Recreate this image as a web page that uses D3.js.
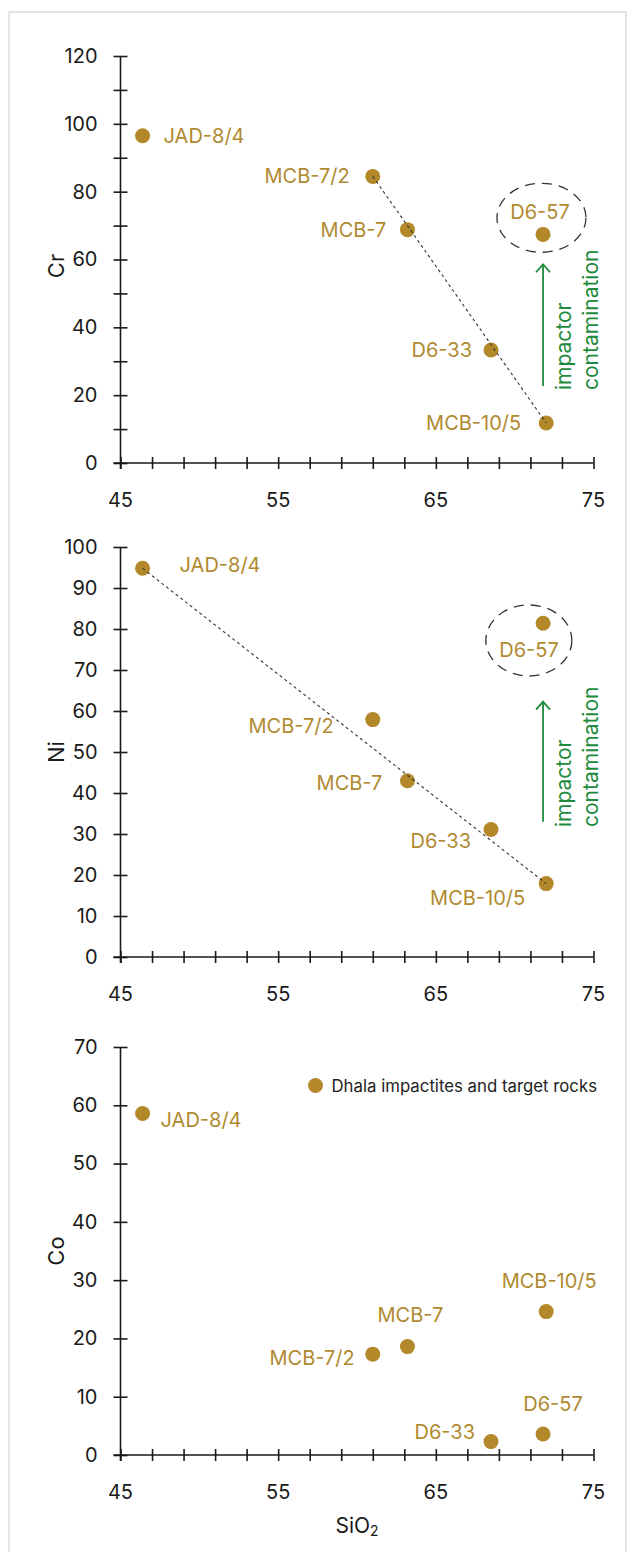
<!DOCTYPE html>
<html>
<head>
<meta charset="utf-8">
<script src="https://cdn.jsdelivr.net/npm/d3@7"></script>
<style>
  body { margin: 0; background: #fff; }
  svg { display: block; font-family: Inter, "Noto Sans", sans-serif; }
</style>
</head>
<body>
<svg id="chart" width="635" height="1552"></svg>
<script>
// data
const samples = ["JAD-8/4", "MCB-7/2", "MCB-7", "D6-33", "D6-57", "MCB-10/5"];
const sio2 = [46.4, 61.0, 63.2, 68.5, 71.8, 72.0];
const cr = [96.5, 84.5, 68.8, 33.3, 67.4, 11.8];
const ni = [94.8, 57.9, 43.0, 31.1, 81.4, 17.9];
const co = [58.6, 17.3, 18.6, 2.3, 3.6, 24.6];
const xTickLabels = [45, 55, 65, 75];
const legendLabel = "Dhala impactites and target rocks";

const gold = "#b3882a",
    goldText = "#b08a30",
    green = "#1e8a3c",
    ink = "#1a1a1a";

const svg = d3.select("#chart");

// light frame round the figure
svg.append("rect")
    .attr("x", 9).attr("y", 12)
    .attr("width", 617).attr("height", 1545)
    .attr("fill", "none")
    .attr("stroke", "#c9c9c9")
    .attr("stroke-width", 1);

const xScale = d3.scaleLinear().domain([45, 75]).range([120.5, 593.5]);

// label placement per panel: [anchor, dx, dy]
const panels = [
    {
        name: "Cr", values: cr, yMax: 120, top: 56, bottom: 463, labelStep: 20, titleY: 266,
        trend: ["MCB-7/2", "MCB-10/5"],
        ellipse: { x: 71.7, y: 72.3, rx: 44.5, ry: 34.5 },
        arrow: { x: 71.8, y0: 22.7, y1: 58.6, textY: 390 },
        labels: {
            "JAD-8/4": ["start", 21, 0], "MCB-7/2": ["end", -23, 0], "MCB-7": ["end", -21, 0],
            "D6-33": ["end", -19, 0], "D6-57": ["middle", -3, -22], "MCB-10/5": ["end", -25, 0]
        }
    },
    {
        name: "Ni", values: ni, yMax: 100, top: 547, bottom: 957, labelStep: 10, titleY: 752,
        trend: ["JAD-8/4", "MCB-10/5"],
        ellipse: { x: 70.9, y: 77.2, rx: 43, ry: 35.5 },
        arrow: { x: 71.8, y0: 33, y1: 62.3, textY: 827 },
        labels: {
            "JAD-8/4": ["start", 37, -3], "MCB-7/2": ["end", -39, 6], "MCB-7": ["end", -25, 2],
            "D6-33": ["end", -20, 12], "D6-57": ["middle", -14, 27], "MCB-10/5": ["end", -21, 14]
        }
    },
    {
        name: "Co", values: co, yMax: 70, top: 1047, bottom: 1455, labelStep: 10, titleY: 1251,
        legend: true,
        labels: {
            "JAD-8/4": ["start", 18, 7], "MCB-7/2": ["end", -18, 4], "MCB-7": ["middle", 3, -32],
            "D6-33": ["end", -16, -10], "D6-57": ["middle", 10, -30], "MCB-10/5": ["middle", 3, -31]
        }
    }
];

panels.forEach((p, pi) => {
    const yScale = d3.scaleLinear().domain([0, p.yMax]).range([p.bottom, p.top]);
    const g = svg.append("g").attr("class", "panel-" + p.name);

    // axes: lines crossed by ticks on both sides
    const yAxis = d3.axisLeft(yScale)
        .tickValues(d3.range(0, p.yMax + 1, 10))
        .tickSize(7)
        .tickSizeOuter(0)
        .tickFormat(d => d % p.labelStep === 0 ? d : "");
    const ya = g.append("g")
        .attr("transform", "translate(" + xScale(45) + ",0)")
        .call(yAxis);
    ya.selectAll(".tick line").attr("x2", 7).attr("x1", -7);
    ya.select(".domain").attr("d", "M0," + (p.top) + "V" + (p.bottom + 6));
    ya.selectAll(".tick text").attr("x", -23);

    const xAxis = d3.axisBottom(xScale)
        .tickValues(d3.range(45, 75.1, 2))
        .tickSize(6)
        .tickSizeOuter(0)
        .tickFormat("");
    const xa = g.append("g")
        .attr("transform", "translate(0," + p.bottom + ")")
        .call(xAxis);
    xa.selectAll(".tick line").attr("y1", -6).attr("y2", 6);
    xa.select(".domain").attr("d", "M" + (xScale(45) - 7) + ",0H" + xScale(75));

    [ya, xa].forEach(a => {
        a.selectAll("line, path").attr("stroke", ink).attr("stroke-width", 1.6);
        a.selectAll("text").attr("fill", ink).attr("font-size", 20).attr("font-family", "Inter");
    });

    g.selectAll(".xlab")
        .data(xTickLabels)
        .join("text")
        .attr("class", "xlab")
        .attr("x", d => xScale(d))
        .attr("y", p.bottom + 37)
        .attr("text-anchor", "middle")
        .attr("dominant-baseline", "central")
        .attr("font-size", 20)
        .attr("fill", ink)
        .text(d => d);

    // y title
    g.append("text")
        .attr("transform", "translate(56," + p.titleY + ") rotate(-90)")
        .attr("text-anchor", "middle")
        .attr("dominant-baseline", "central")
        .attr("font-size", 22)
        .attr("fill", ink)
        .text(p.name);

    const pts = samples.map((s, i) => ({ name: s, x: sio2[i], y: p.values[i] }));

    g.selectAll(".dot")
        .data(pts)
        .join("circle")
        .attr("class", "dot")
        .attr("cx", d => xScale(d.x))
        .attr("cy", d => yScale(d.y))
        .attr("r", 7.5)
        .attr("fill", gold);

    // dotted trend line, drawn over the dots as in the figure
    if (p.trend) {
        const a = pts.find(d => d.name === p.trend[0]),
            b = pts.find(d => d.name === p.trend[1]);
        g.append("line")
            .attr("x1", xScale(a.x)).attr("y1", yScale(a.y))
            .attr("x2", xScale(b.x)).attr("y2", yScale(b.y))
            .attr("stroke", "#333")
            .attr("stroke-width", 1.1)
            .attr("stroke-dasharray", "3,3");
    }

    g.selectAll(".lab")
        .data(pts)
        .join("text")
        .attr("class", "lab")
        .attr("x", d => xScale(d.x) + p.labels[d.name][1])
        .attr("y", d => yScale(d.y) + p.labels[d.name][2])
        .attr("text-anchor", d => p.labels[d.name][0])
        .attr("dominant-baseline", "central")
        .attr("font-size", 20)
        .attr("fill", goldText)
        .text(d => d.name);

    if (p.ellipse) {
        g.append("ellipse")
            .attr("cx", xScale(p.ellipse.x))
            .attr("cy", yScale(p.ellipse.y))
            .attr("rx", p.ellipse.rx)
            .attr("ry", p.ellipse.ry)
            .attr("fill", "none")
            .attr("stroke", "#333")
            .attr("stroke-width", 1.3)
            .attr("stroke-dasharray", "10,7");
    }

    if (p.arrow) {
        const ax = xScale(p.arrow.x),
            yBot = yScale(p.arrow.y0),
            yTop = yScale(p.arrow.y1);
        g.append("line")
            .attr("x1", ax).attr("x2", ax)
            .attr("y1", yBot).attr("y2", yTop + 1)
            .attr("stroke", green).attr("stroke-width", 1.8);
        g.append("path")
            .attr("d", "M" + (ax - 7) + "," + (yTop + 8) + "L" + ax + "," + yTop + "L" + (ax + 7) + "," + (yTop + 8))
            .attr("fill", "none")
            .attr("stroke", green)
            .attr("stroke-width", 1.8);
        [["impactor", 20], ["contamination", 47]].forEach(([t, off]) => {
            g.append("text")
                .attr("transform", "translate(" + (ax + off) + "," + p.arrow.textY + ") rotate(-90)")
                .attr("text-anchor", "start")
                .attr("dominant-baseline", "central")
                .attr("font-size", 21)
                .attr("fill", green)
                .text(t);
        });
    }

    if (p.legend) {
        const lg = g.append("g").attr("transform", "translate(315.5,1085.5)");
        lg.append("circle").attr("r", 7.5).attr("fill", gold);
        lg.append("text")
            .attr("x", 16)
            .attr("dominant-baseline", "central")
            .attr("font-size", 16.8)
            .attr("fill", "#222")
            .text(legendLabel);
    }
});

// x title with subscript
const xt = svg.append("text")
    .attr("x", (xScale(45) + xScale(75)) / 2)
    .attr("y", 1525)
    .attr("text-anchor", "middle")
    .attr("dominant-baseline", "central")
    .attr("font-size", 21)
    .attr("fill", ink);
xt.append("tspan").text("SiO");
xt.append("tspan").attr("font-size", 14).attr("dy", 5).text("2");
</script>
</body>
</html>
